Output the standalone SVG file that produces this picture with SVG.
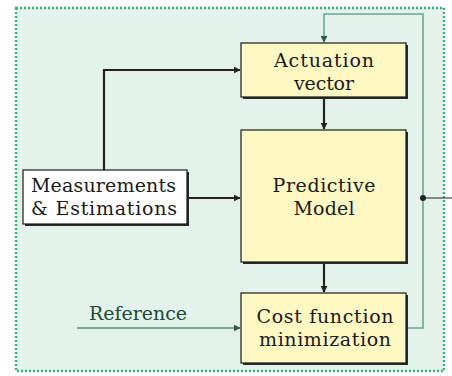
<svg xmlns="http://www.w3.org/2000/svg" width="452" height="376" viewBox="0 0 452 376">
<defs>
<marker id="ab" viewBox="0 0 10 10" refX="9" refY="5" markerWidth="7" markerHeight="7" markerUnits="userSpaceOnUse" orient="auto"><path d="M0,0 L10,5 L0,10 Z" fill="#222"/></marker>
<marker id="ag" viewBox="0 0 10 10" refX="9" refY="5" markerWidth="7" markerHeight="7" markerUnits="userSpaceOnUse" orient="auto"><path d="M0,0 L10,5 L0,10 Z" fill="#2f5e48"/></marker>
</defs>
<style>
.box{fill:#fef8c2;stroke:#1a1a1a;stroke-width:1.2}
.wbox{fill:#ffffff;stroke:#1a1a1a;stroke-width:1.2}
.sh{fill:#2a2a2a}
text{font-family:'DejaVu Serif','Liberation Serif',serif;font-size:19px;fill:#1a1a1a}
.t{text-anchor:middle}
.k{fill:none;stroke:#222;stroke-width:2.2}
.g{fill:none;stroke:#6aa88c;stroke-width:1.6}
</style>
<rect x="16" y="8" width="428" height="363" fill="#e3f3eb" stroke="#33b373" stroke-width="2.4" stroke-dasharray="2,2"/>
<g id="connectors">
<path class="k" d="M104,170 V70 H240" marker-end="url(#ab)"/>
<path class="k" d="M188,198 H240" marker-end="url(#ab)"/>
<path class="k" d="M324,98 V129" marker-end="url(#ab)"/>
<path class="k" d="M324,263 V292" marker-end="url(#ab)"/>
<path class="g" d="M407,328 H423 V14 H324 V42" marker-end="url(#ag)"/>
<path d="M77,328 H240" fill="none" stroke="#5a8f76" stroke-width="1.4" marker-end="url(#ag)"/>
<path d="M423,198 H452" fill="none" stroke="#444" stroke-width="1.2"/>
<circle cx="423" cy="198" r="3" fill="#222"/>
</g>
<g id="actuation">
<rect class="sh" x="243" y="45" width="165" height="54"/>
<rect class="box" x="241" y="43" width="165" height="54"/>
<text class="t" x="324" y="67" textLength="100">Actuation</text>
<text class="t" x="324" y="90" textLength="60">vector</text>
</g>
<g id="predictive">
<rect class="sh" x="243" y="132" width="165" height="132"/>
<rect class="box" x="241" y="130" width="165" height="132"/>
<text class="t" x="324" y="192" textLength="103">Predictive</text>
<text class="t" x="324" y="215" textLength="61">Model</text>
</g>
<g id="cost">
<rect class="sh" x="243" y="295" width="165" height="70"/>
<rect class="box" x="241" y="293" width="165" height="70"/>
<text class="t" x="325" y="323" textLength="137">Cost function</text>
<text class="t" x="325" y="346" textLength="132">minimization</text>
</g>
<g id="measurements">
<rect class="sh" x="25" y="172" width="164" height="54"/>
<rect class="wbox" x="23" y="170" width="164" height="54"/>
<text x="31" y="192" textLength="145">Measurements</text>
<text x="31" y="215" textLength="146">&amp; Estimations</text>
</g>
<g id="reference">
<text x="89" y="320" textLength="98" style="fill:#1e4a36">Reference</text>
</g>
</svg>
